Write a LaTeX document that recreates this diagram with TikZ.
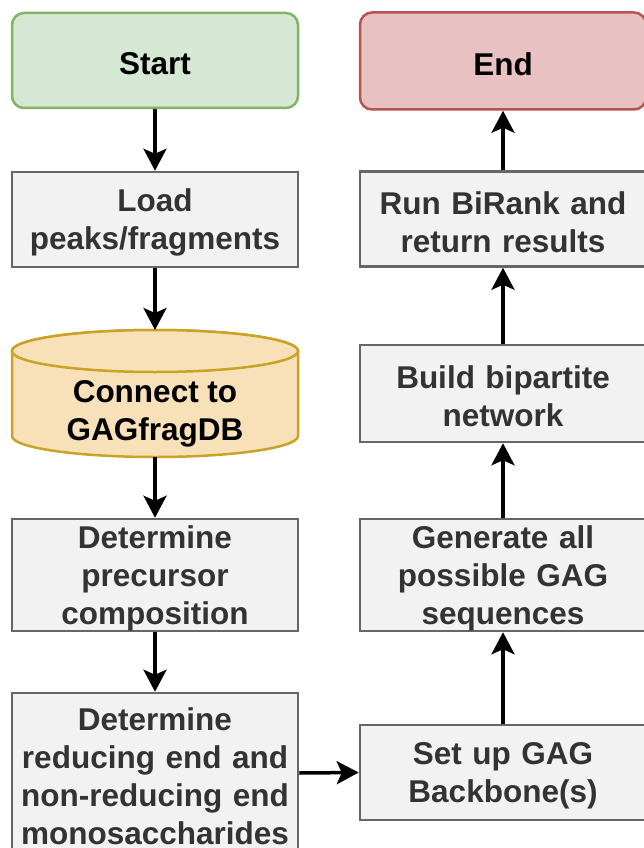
\documentclass[tikz,border=0pt]{standalone}
\usepackage{fontspec}
\setmainfont{Liberation Sans}
\usetikzlibrary{arrows.meta}

\definecolor{boxfill}{HTML}{F2F2F2}
\definecolor{boxline}{HTML}{666666}
\definecolor{boxtext}{HTML}{333333}
\definecolor{startfill}{HTML}{D5E8D4}
\definecolor{startline}{HTML}{82B366}
\definecolor{endfill}{HTML}{E8C2C2}
\definecolor{endline}{HTML}{B85450}
\definecolor{dbfill}{HTML}{F8E0B8}
\definecolor{dbline}{HTML}{C9A227}

\tikzset{
  stepbox/.style={draw=boxline, fill=boxfill, line width=2.5pt, minimum width=286pt,
    text width=282pt, align=center, inner sep=0pt, text=boxtext,
    font=\bfseries\fontsize{31.5}{38}\selectfont,
    execute at begin node={\rule{0pt}{29pt}}},
  termbox/.style={stepbox, rounded corners=12pt, text=black},
  dbtext/.style={align=center, inner sep=0pt, text=black,
    font=\bfseries\fontsize{31.5}{38}\selectfont},
  flow/.style={-{Stealth[length=22pt, width=23pt, inset=5pt]}, line width=3.5pt}
}

\begin{document}
\begin{tikzpicture}[x=1pt,y=1pt]
\useasboundingbox (0,0) rectangle (643,-848);

% left column
\node[termbox, fill=startfill, draw=startline, minimum height=95pt] (start) at (155,-60.5) {Start};
\node[stepbox, minimum height=95pt] (load) at (155,-219.5) {Load\\peaks/fragments};

% database cylinder
\path[draw=dbline, fill=dbfill, line width=2.5pt] (12,-351) -- (12,-436)
  arc[start angle=180, end angle=360, x radius=143pt, y radius=21pt] -- (298,-351)
  arc[start angle=0, end angle=180, x radius=143pt, y radius=21pt] -- cycle;
\draw[draw=dbline, fill=dbfill, line width=2.5pt] (155,-351) ellipse[x radius=143pt, y radius=21pt];
\node[dbtext] (db) at (155,-414) {Connect to\\GAGfragDB};
\coordinate (dbtop) at (155,-330);
\coordinate (dbbot) at (155,-457);

\node[stepbox, minimum height=112pt] (prec) at (155,-575) {Determine\\precursor\\composition};
\node[stepbox, minimum height=160pt] (ends) at (155,-773) {Determine\\reducing end and\\non-reducing end\\monosaccharides};

% right column
\node[termbox, fill=endfill, draw=endline, minimum height=97pt] (end) at (503,-61) {End};
\node[stepbox, minimum height=95pt] (birank) at (503,-219) {Run BiRank and\\return results};
\node[stepbox, minimum height=97pt] (bip) at (503,-393.5) {Build bipartite\\network};
\node[stepbox, minimum height=112pt] (gen) at (503,-575) {Generate all\\possible GAG\\sequences};
\node[stepbox, minimum height=95pt] (backbone) at (503,-772.5) {Set up GAG\\Backbone(s)};

\draw[flow] (start) -- (load);
\draw[flow] (load) -- (dbtop);
\draw[flow] (dbbot) -- (prec);
\draw[flow] (prec) -- (ends);
\draw[flow] (ends.east) -- (backbone.west);
\draw[flow] (backbone) -- (gen);
\draw[flow] (gen) -- (bip);
\draw[flow] (bip) -- (birank);
\draw[flow] (birank) -- (end);

\end{tikzpicture}
\end{document}
